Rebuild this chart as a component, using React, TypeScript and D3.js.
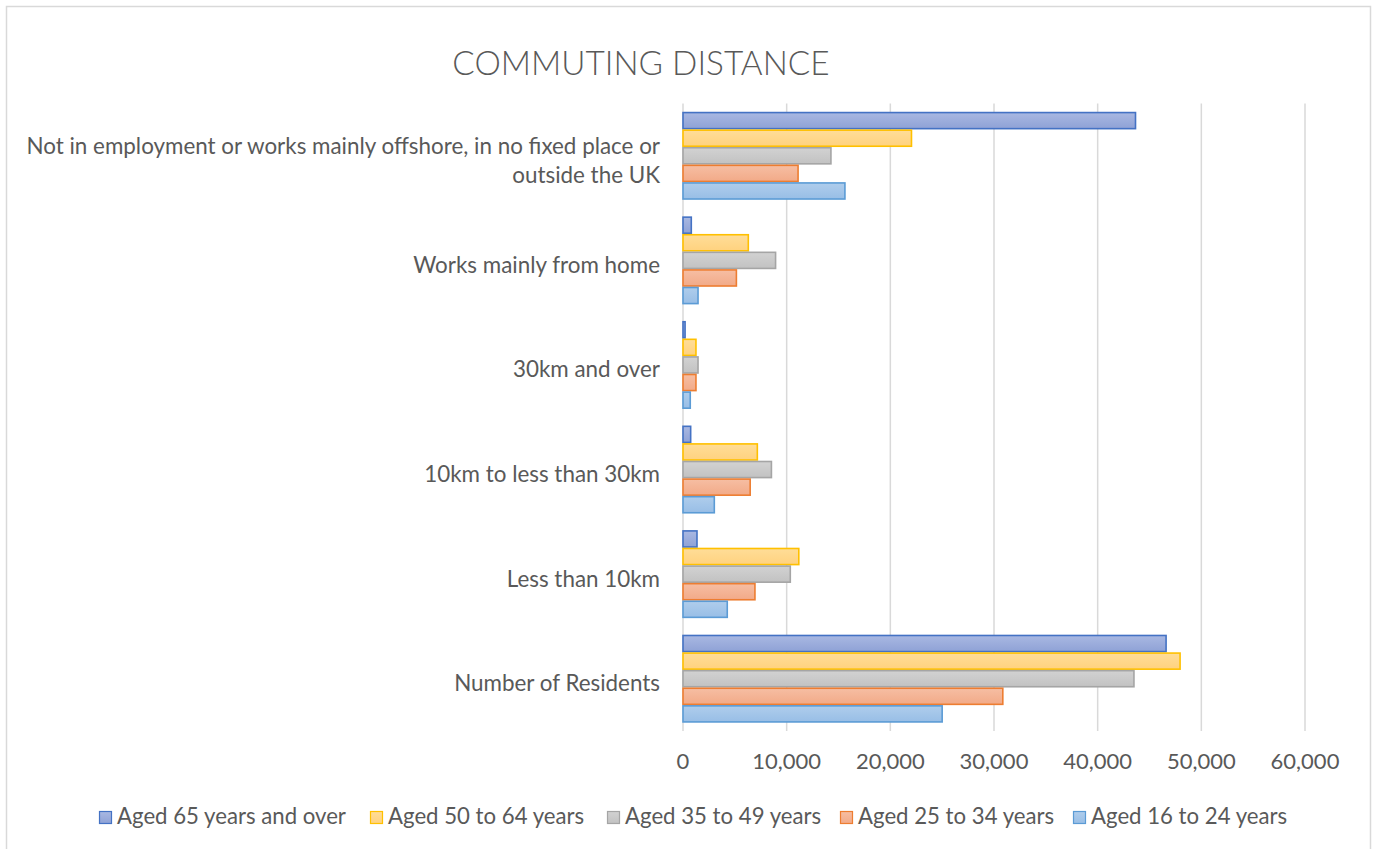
import React from "react";
import * as d3 from "d3";

const categories = [
  "Not in employment or works mainly offshore, in no fixed place or|outside the UK",
  "Works mainly from home",
  "30km and over",
  "10km to less than 30km",
  "Less than 10km",
  "Number of Residents",
];

const seriesNames = [
  "Aged 65 years and over",
  "Aged 50 to 64 years",
  "Aged 35 to 49 years",
  "Aged 25 to 34 years",
  "Aged 16 to 24 years",
];

const aged65plus = [43650, 800, 200, 740, 1350, 46600];
const aged50to64 = [22040, 6300, 1250, 7170, 11170, 47950];
const aged35to49 = [14270, 8930, 1450, 8530, 10350, 43500];
const aged25to34 = [11100, 5150, 1250, 6480, 6940, 30850];
const aged16to24 = [15620, 1450, 700, 3020, 4270, 25000];

const xTicks = [0, 10000, 20000, 30000, 40000, 50000, 60000];

const fills = [
  ["#a9b8e2", "#8fa2d6"],
  ["#ffdd98", "#ffd27f"],
  ["#d2d2d2", "#c2c2c2"],
  ["#f6bea3", "#f2aa88"],
  ["#afcdec", "#98bee6"],
];
const strokes = ["#4472c4", "#ffc000", "#a5a5a5", "#ed7d31", "#5b9bd5"];

const W = 1376;
const H = 849;
const FONT = "Lato, 'Open Sans', sans-serif";
const TXT = "#595959";

export default function App() {
  const values = [aged65plus, aged50to64, aged35to49, aged25to34, aged16to24];
  const x = d3.scaleLinear().domain([0, 60000]).range([683, 1305]);
  const y = d3.scaleBand().domain(categories).range([103.5, 731]).paddingInner(0.159).paddingOuter(0.0795);
  const inner = d3.scaleBand().domain(seriesNames).range([0, y.bandwidth()]);
  const fmt = d3.format(",");

  const legendX = [99, 370, 607, 840, 1073];

  return (
    <svg width={W} height={H} style={{ position: "absolute", left: 0, top: 0 }} fontFamily={FONT}>
      <defs>
        {fills.map((f, i) => (
          <linearGradient key={i} id={`g${i}`} x1="0" y1="0" x2="0" y2="1">
            <stop offset="0" stopColor={f[0]} />
            <stop offset="1" stopColor={f[1]} />
          </linearGradient>
        ))}
      </defs>
      <rect x={0} y={0} width={W} height={H} fill="#fff" />
      <rect x={6.5} y={6.5} width={1364} height={860} fill="none" stroke="#d9d9d9" strokeWidth={1.5} />
      <text x={641} y={75} textAnchor="middle" fontSize={33.3} fontWeight={300} fill={TXT}>
        COMMUTING DISTANCE
      </text>
      {xTicks.map((t) => (
        <line key={t} x1={x(t)} x2={x(t)} y1={103.5} y2={731} stroke="#d9d9d9" strokeWidth={1.5} />
      ))}
      {xTicks.map((t) => (
        <text key={"l" + t} x={x(t)} y={763} textAnchor="middle" dominantBaseline="middle" fontSize={22} fill={TXT}>
          {fmt(t)}
        </text>
      ))}
      {categories.map((c) => {
        const lines = c.split("|");
        const cy = (y(c) as number) + y.bandwidth() / 2 + 6.5;
        const lh = 29;
        return (
          <text key={c} x={660} textAnchor="end" fontSize={22.4} fill={TXT} dominantBaseline="middle">
            {lines.map((l, i) => (
              <tspan key={i} x={660} y={cy + (i - (lines.length - 1) / 2) * lh}>
                {l}
              </tspan>
            ))}
          </text>
        );
      })}
      {categories.map((c, ci) =>
        seriesNames.map((s, si) => {
          const v = values[si][ci];
          const y0 = (y(c) as number) + (inner(s) as number);
          return (
            <rect
              key={c + s}
              x={x(0)}
              y={y0 + 0.75}
              width={x(v) - x(0)}
              height={inner.bandwidth() - 1.5}
              fill={`url(#g${si})`}
              stroke={strokes[si]}
              strokeWidth={1.6}
            />
          );
        })
      )}
      {seriesNames.map((s, i) => (
        <g key={s} transform={`translate(${legendX[i]},818)`}>
          <rect x={0.5} y={-6.5} width={12} height={12} fill={`url(#g${i})`} stroke={strokes[i]} strokeWidth={1.2} />
          <text x={18} y={0} dominantBaseline="middle" fontSize={22.2} fill={TXT}>
            {s}
          </text>
        </g>
      ))}
    </svg>
  );
}
